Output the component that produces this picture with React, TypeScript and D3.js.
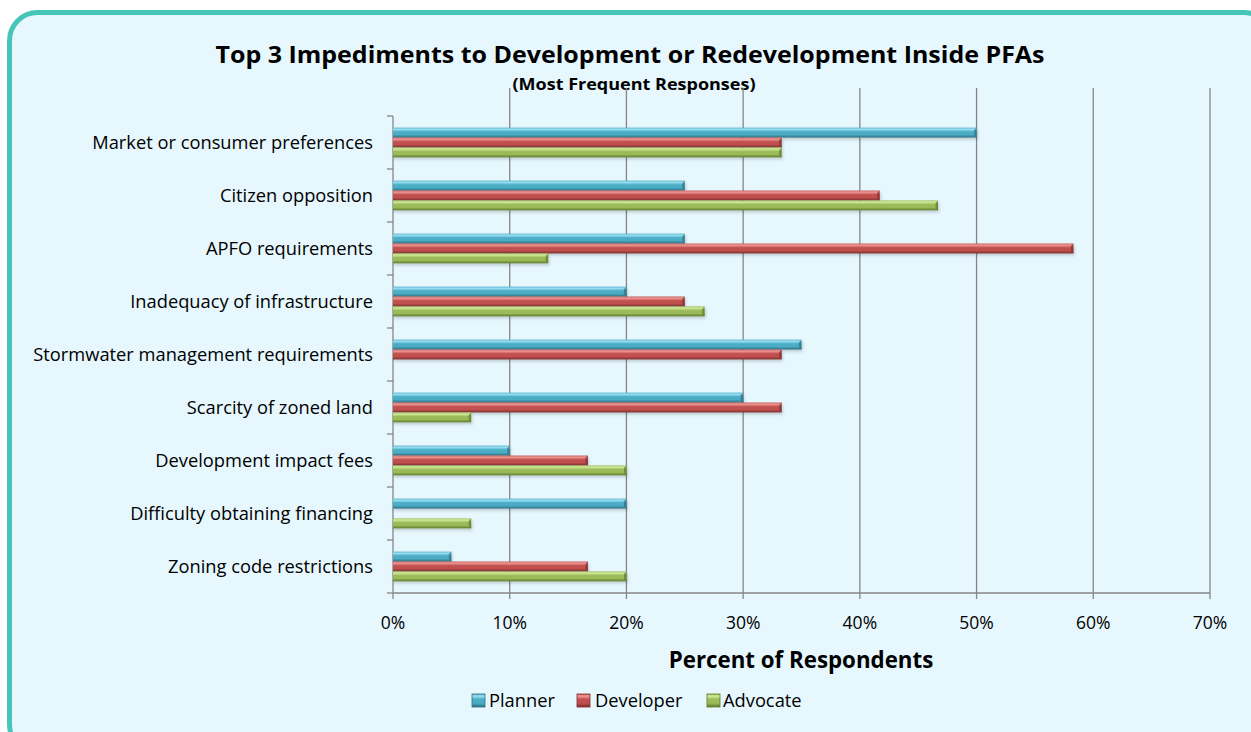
import React from "react";
import * as d3 from "d3";

const categories = [
  "Market or consumer preferences",
  "Citizen opposition",
  "APFO requirements",
  "Inadequacy of infrastructure",
  "Stormwater management requirements",
  "Scarcity of zoned land",
  "Development impact fees",
  "Difficulty obtaining financing",
  "Zoning code restrictions",
];
const seriesNames = ["Planner", "Developer", "Advocate"];
const planner = [50, 25, 25, 20, 35, 30, 10, 20, 5];
const developer = [33.3, 41.7, 58.3, 25, 33.3, 33.3, 16.7, 0, 16.7];
const advocate = [33.3, 46.7, 13.3, 26.7, 0, 6.7, 20, 6.7, 20];
const xTicks = [0, 10, 20, 30, 40, 50, 60, 70];

const seriesValues = [planner, developer, advocate];
const colors = [
  { light: "#9fe3f5", base: "#4bacc6", dark: "#2c6f82" },
  { light: "#f29c9a", base: "#c0504d", dark: "#7d2f2d" },
  { light: "#d3ec9b", base: "#9bbb59", dark: "#5d7a2c" },
];

const FONT = "'Open Sans', 'Liberation Sans', sans-serif";

export default function App() {
  const W = 1251;
  const H = 732;
  const left = 393;
  const right = 1210;
  const gridTop = 88;
  const top = 116;
  const bottom = 593;

  const x = d3.scaleLinear().domain([0, 70]).range([left, right]);
  const y = d3.scaleBand<string>().domain(categories).range([top, bottom]).paddingInner(0.44).paddingOuter(0.22);
  const inner = d3.scaleBand<string>().domain(seriesNames).range([0, y.bandwidth()]).padding(0);

  return (
    <svg width={W} height={H} style={{ position: "absolute", left: 0, top: 0 }}>
      <defs>
        {colors.map((c, i) => (
          <linearGradient key={i} id={`g${i}`} x1="0" y1="0" x2="0" y2="1">
            <stop offset="0" stopColor={c.base} />
            <stop offset="0.15" stopColor={c.light} />
            <stop offset="0.42" stopColor={c.base} />
            <stop offset="0.7" stopColor={c.base} />
            <stop offset="1" stopColor={c.dark} />
          </linearGradient>
        ))}
        <filter id="sh" x="-5%" y="-50%" width="110%" height="220%">
          <feDropShadow dx="1" dy="2" stdDeviation="1.5" floodColor="#000" floodOpacity="0.18" />
        </filter>
      </defs>
      <rect x={9.5} y={12.5} width={1262} height={740} rx={28} ry={28} fill="#e6f7fe" stroke="#48c5b9" strokeWidth={5} />

      <text x={630} y={63} textAnchor="middle" fontFamily={FONT} fontWeight="bold" fontSize={24} textLength={829} lengthAdjust="spacingAndGlyphs" fill="#000">
        Top 3 Impediments to Development or Redevelopment Inside PFAs
      </text>
      <text x={634} y={90} textAnchor="middle" fontFamily={FONT} fontWeight="bold" fontSize={16} textLength={243} lengthAdjust="spacingAndGlyphs" fill="#000">
        (Most Frequent Responses)
      </text>

      {xTicks.slice(1).map((t) => (
        <line key={t} x1={x(t)} x2={x(t)} y1={gridTop} y2={bottom} stroke="#868686" strokeWidth={1.3} />
      ))}
      <line x1={left} x2={left} y1={top} y2={bottom} stroke="#868686" strokeWidth={1.3} />
      <line x1={left} x2={right} y1={bottom} y2={bottom} stroke="#868686" strokeWidth={1.3} />
      {d3.range(categories.length + 1).map((i) => {
        const yy = top + ((bottom - top) * i) / categories.length;
        return <line key={i} x1={left - 6} x2={left} y1={yy} y2={yy} stroke="#868686" strokeWidth={1.3} />;
      })}
      {xTicks.map((t) => (
        <line key={t} x1={x(t)} x2={x(t)} y1={bottom} y2={bottom + 6} stroke="#868686" strokeWidth={1.3} />
      ))}

      {categories.map((c, ci) => (
        <g key={c}>
          {seriesValues.map((vals, si) => {
            const v = vals[ci];
            if (!v) return null;
            const by = (y(c) as number) + (inner(seriesNames[si]) as number);
            const bh = inner.bandwidth();
            const bw = x(v) - x(0);
            return (
              <g key={si} filter="url(#sh)">
                <rect x={x(0)} y={by} width={bw} height={bh} fill={`url(#g${si})`} />
                <polygon
                  points={`${x(v) - 2.5},${by + 2.5} ${x(v)},${by} ${x(v)},${by + bh} ${x(v) - 2.5},${by + bh - 2.5}`}
                  fill={colors[si].dark}
                  opacity={0.7}
                />
              </g>
            );
          })}
          <text
            x={373}
            y={(y(c) as number) + y.bandwidth() / 2 + 6.5}
            textAnchor="end"
            fontFamily={FONT}
            fontSize={18.3}
            fill="#000"
          >
            {c}
          </text>
        </g>
      ))}

      {xTicks.map((t) => (
        <text key={t} x={x(t)} y={629} textAnchor="middle" fontFamily={FONT} fontSize={17.5} fill="#000">
          {t}%
        </text>
      ))}
      <text x={801} y={668} textAnchor="middle" fontFamily={FONT} fontWeight="bold" fontSize={22.3} fill="#000">
        Percent of Respondents
      </text>

      {seriesNames.map((s, si) => {
        const mx = [472, 577, 707][si];
        const tx = [489, 595, 723][si];
        return (
          <g key={s}>
            <rect x={mx} y={694} width={13} height={13} fill={`url(#g${si})`} stroke={colors[si].dark} strokeWidth={0.8} />
            <text x={tx} y={707} fontFamily={FONT} fontSize={18.3} fill="#000">
              {s}
            </text>
          </g>
        );
      })}
    </svg>
  );
}
